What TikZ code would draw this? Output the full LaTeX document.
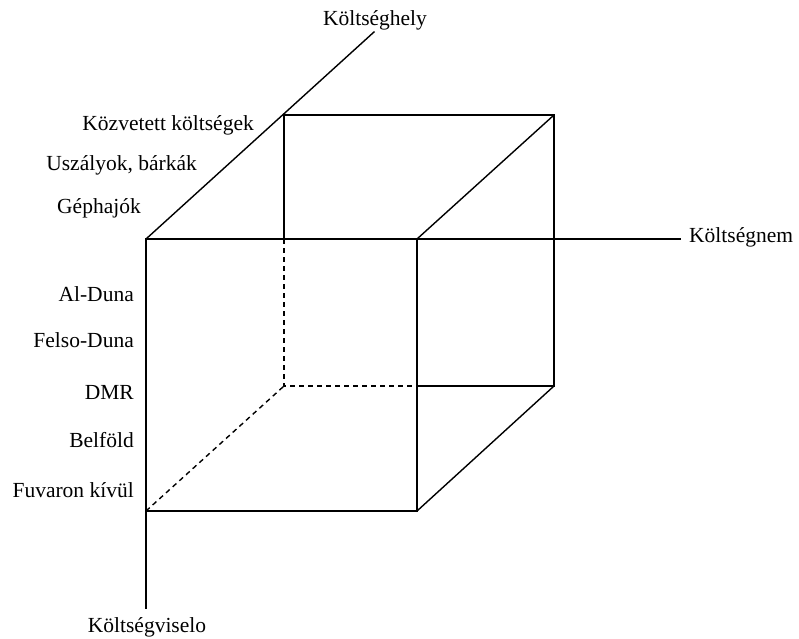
\documentclass[tikz,border=0pt]{standalone}
\usepackage{fontspec}
\setmainfont{Liberation Serif}
\begin{document}
\begin{tikzpicture}[x=1pt,y=-1pt,
  edge/.style={line width=1.4pt,line cap=rect},
  hidden/.style={line width=1.4pt,dash pattern=on 5pt off 4pt},
  lbl/.style={font=\fontsize{21.5}{25}\selectfont,inner sep=0pt}]
\useasboundingbox (0,0) rectangle (799,638);
% cube corners
\coordinate (F1) at (146,239);
\coordinate (F2) at (417,239);
\coordinate (F3) at (417,511);
\coordinate (F4) at (146,511);
\coordinate (B1) at (284,115);
\coordinate (B2) at (554,115);
\coordinate (B3) at (554,386);
\coordinate (B4) at (284,386);
\coordinate (P) at (284,239);
\coordinate (Q) at (417,386);
% axis ends
\coordinate (H) at (374,32);
\coordinate (N) at (680,239);
\coordinate (V) at (146,608);
% axes
\draw[edge] (F1) -- (H);
\draw[edge] (F1) -- (N);
\draw[edge] (F1) -- (V);
% visible edges
\draw[edge] (F4) -- (F3) -- (F2);
\draw[edge] (F2) -- (B2);
\draw[edge] (B1) -- (B2) -- (B3) -- (Q);
\draw[edge] (F3) -- (B3);
\draw[edge] (B1) -- (P);
% hidden edges
\draw[hidden] (P) -- (B4) -- (Q);
\draw[hidden] (F4) -- (B4);
% axis titles
\node[lbl] (th) at (375,20) {Költséghely};
\node[lbl,anchor=west] (tn) at (689,237) {Költségnem};
\node[lbl] (tv) at (147,627) {Költségviselo};
% cost centre categories
\node[lbl,anchor=east] (c1) at (254,125) {Közvetett költségek};
\node[lbl,anchor=east] (c2) at (197,165) {Uszályok, bárkák};
\node[lbl,anchor=east] (c3) at (141,208) {Géphajók};
% cost bearer categories
\node[lbl,anchor=east] (v1) at (134,294) {Al-Duna};
\node[lbl,anchor=east] (v2) at (134,340) {Felso-Duna};
\node[lbl,anchor=east] (v3) at (134,392) {DMR};
\node[lbl,anchor=east] (v4) at (134,440) {Belföld};
\node[lbl,anchor=east] (v5) at (134,490) {Fuvaron kívül};
\end{tikzpicture}
\end{document}
